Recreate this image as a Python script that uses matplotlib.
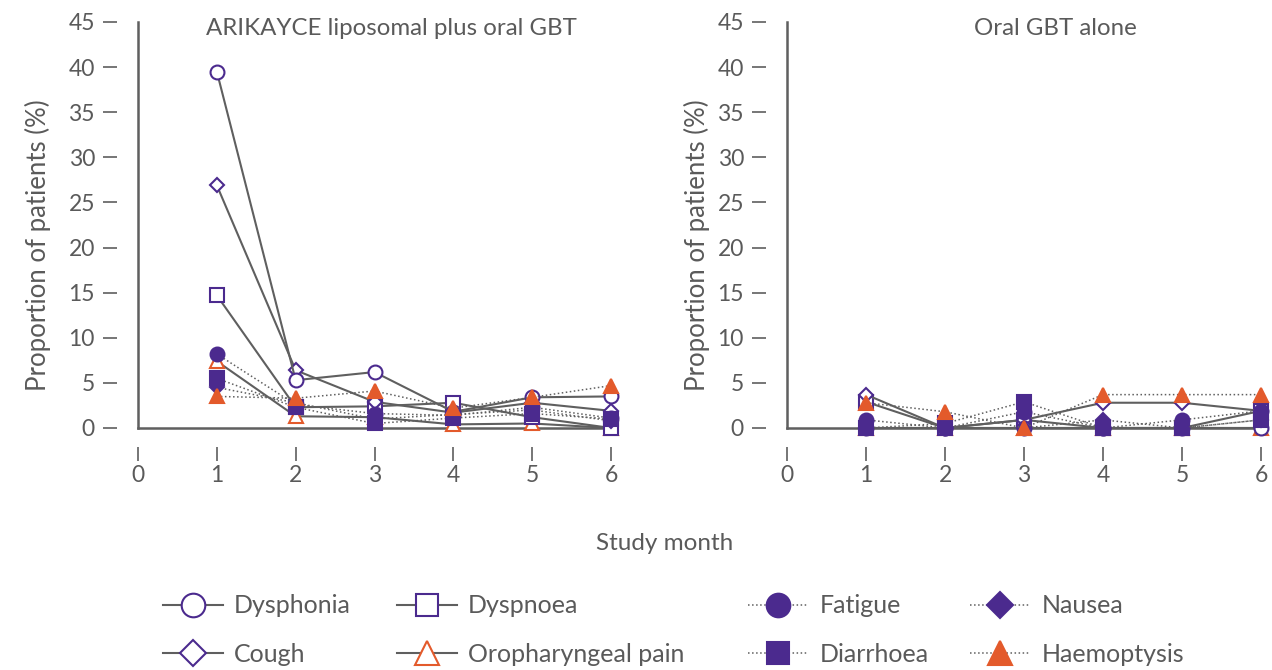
import matplotlib
matplotlib.use("Agg")
import matplotlib.pyplot as plt
from matplotlib.lines import Line2D

plt.rcParams["font.family"] = ["Lato", "DejaVu Sans"]

PURPLE = "#4b2a8e"
ORANGE = "#e35a2b"
LINE = "#5f5f5f"
TEXT = "#5a5a5a"

months = [1, 2, 3, 4, 5, 6]
series_names = ["Dysphonia", "Dyspnoea", "Fatigue", "Nausea",
                "Cough", "Oropharyngeal pain", "Diarrhoea", "Haemoptysis"]
panel_titles = ["ARIKAYCE liposomal plus oral GBT", "Oral GBT alone"]

# values, % of patients per study month
arikayce = {
    "Dysphonia":          [39.5, 5.3, 6.2, 1.8, 3.4, 3.5],
    "Dyspnoea":           [14.7, 2.3, 2.4, 2.8, 1.2, 0.0],
    "Cough":              [26.9, 6.4, 2.9, 1.7, 2.8, 1.9],
    "Oropharyngeal pain": [7.4, 1.3, 1.2, 0.4, 0.5, 0.0],
    "Fatigue":            [8.2, 2.6, 1.6, 1.4, 2.3, 1.1],
    "Nausea":             [4.5, 2.8, 1.0, 1.5, 2.0, 0.8],
    "Diarrhoea":          [5.5, 2.3, 0.5, 1.1, 1.6, 1.0],
    "Haemoptysis":        [3.5, 3.3, 4.1, 2.2, 3.4, 4.7],
}
gbt_alone = {
    "Dysphonia":          [0.0, 0.0, 0.0, 0.0, 0.0, 0.0],
    "Dyspnoea":           [2.9, 0.0, 0.9, 0.0, 0.0, 1.9],
    "Cough":              [3.7, 0.0, 0.9, 2.8, 2.8, 1.9],
    "Oropharyngeal pain": [0.0, 0.0, 0.0, 0.0, 0.0, 0.0],
    "Fatigue":            [0.9, 0.0, 1.8, 0.0, 0.9, 1.9],
    "Nausea":             [0.0, 0.0, 0.0, 0.9, 0.0, 0.9],
    "Diarrhoea":          [0.0, 0.5, 2.9, 0.0, 0.0, 0.9],
    "Haemoptysis":        [2.8, 1.8, 0.0, 3.7, 3.7, 3.7],
}

styles = {
    "Dysphonia":          dict(marker="o", mfc="white", mec=PURPLE, ls="-"),
    "Dyspnoea":           dict(marker="s", mfc="white", mec=PURPLE, ls="-"),
    "Cough":              dict(marker="D", mfc="white", mec=PURPLE, ls="-"),
    "Oropharyngeal pain": dict(marker="^", mfc="white", mec=ORANGE, ls="-"),
    "Fatigue":            dict(marker="o", mfc=PURPLE, mec=PURPLE, ls=":"),
    "Nausea":             dict(marker="D", mfc=PURPLE, mec=PURPLE, ls=":"),
    "Diarrhoea":          dict(marker="s", mfc=PURPLE, mec=PURPLE, ls=":"),
    "Haemoptysis":        dict(marker="^", mfc=ORANGE, mec=ORANGE, ls=":"),
}
msizes = {"o": 10, "s": 9.5, "D": 7.5, "^": 10}
draw_order = ["Oropharyngeal pain", "Dyspnoea", "Cough", "Dysphonia",
              "Diarrhoea", "Nausea", "Fatigue", "Haemoptysis"]

fig = plt.figure(figsize=(12.72, 6.7), dpi=100)
ax1 = fig.add_axes([138 / 1272, 1 - 428 / 670, 473 / 1272, 406 / 670])
ax2 = fig.add_axes([787 / 1272, 1 - 428 / 670, 474 / 1272, 406 / 670])

for ax, data, title, tx, lx in [(ax1, arikayce, panel_titles[0], 3.22, -0.184),
                                (ax2, gbt_alone, panel_titles[1], 3.4, -0.163)]:
    for name in draw_order:
        st = styles[name]
        ax.plot(months, data[name], color=LINE, lw=1.5 if st["ls"] == "-" else 1.1,
                ls=st["ls"], marker=st["marker"], ms=msizes[st["marker"]],
                mfc=st["mfc"], mec=st["mec"], mew=1.5, clip_on=False, zorder=3)
    ax.set_xlim(0, 6)
    ax.set_ylim(0, 45)
    ax.set_xticks(range(0, 7))
    ax.set_yticks(range(0, 46, 5))
    for s in ["top", "right", "left", "bottom"]:
        ax.spines[s].set_visible(False)
    ax.plot([0, 0], [0, 45], color=LINE, lw=1.8, clip_on=False, zorder=2)
    ax.plot([0, 6.07], [0, 0], color=LINE, lw=1.8, clip_on=False, zorder=2)
    ax.spines["left"].set_position(("outward", 15))
    ax.spines["bottom"].set_position(("outward", 14))
    ax.tick_params(axis="y", length=10, width=1.2, color=LINE, labelsize=16.5,
                   labelcolor=TEXT, pad=6)
    ax.tick_params(axis="x", length=10, width=1.2, color=LINE, labelsize=16.5,
                   labelcolor=TEXT, pad=3)
    ax.set_ylabel("Proportion of patients (%)", fontsize=18.5, color=TEXT)
    ax.yaxis.set_label_coords(lx, 0.45)
    ax.text(tx, 44.3, title, ha="center", va="center", fontsize=17.3, color=TEXT)
    ax.patch.set_alpha(0)

fig.text(665 / 1272, 1 - 544 / 670, "Study month", ha="center", va="center",
         fontsize=17.5, color=TEXT)

# legend: four columns, two entries each
columns = [["Dysphonia", "Cough"], ["Dyspnoea", "Oropharyngeal pain"],
           ["Fatigue", "Diarrhoea"], ["Nausea", "Haemoptysis"]]
col_x = [163, 397, 748, 970]
for names, x in zip(columns, col_x):
    handles = []
    for name in names:
        st = styles[name]
        handles.append(Line2D([], [], color=LINE, lw=1.5 if st["ls"] == "-" else 1.1,
                              ls=st["ls"], marker=st["marker"],
                              ms=msizes[st["marker"]] * 1.7, mfc=st["mfc"],
                              mec=st["mec"], mew=1.5))
    fig.legend(handles, names, loc="center left", bbox_to_anchor=(x / 1272, 1 - 630 / 670),
               frameon=False, fontsize=18, labelcolor=TEXT, handlelength=2.4,
               handletextpad=0.45, labelspacing=1.02, borderpad=0, borderaxespad=0)

fig.savefig("out.png", dpi=100)
